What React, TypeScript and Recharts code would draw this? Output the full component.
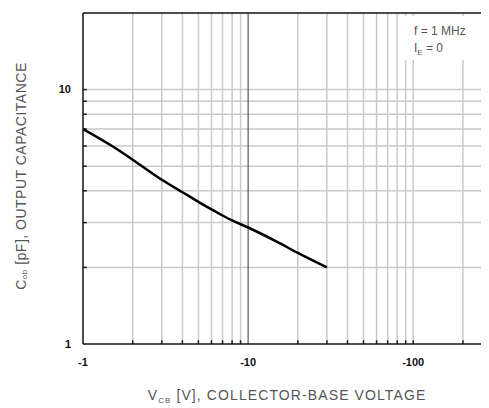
import { LineChart, Line, XAxis, YAxis, ReferenceLine } from "recharts"

const voltage = [1, 1.5, 2, 3, 4, 5, 6, 7, 8, 10, 15, 20, 30]
const capacitance = [7.0, 6.0, 5.3, 4.42, 3.95, 3.62, 3.38, 3.2, 3.06, 2.87, 2.52, 2.28, 2.0]

const xTicks = [1, 10, 100]
const yTicks = [1, 10]
const xGrid = [2, 3, 4, 5, 6, 7, 8, 9, 20, 30, 40, 50, 60, 70, 80, 90, 100, 200]
const yGrid = [2, 3, 4, 5, 6, 7, 8, 9, 10]

const data = voltage.map((v, i) => ({ v, c: capacitance[i] }))

const FONT = "'Liberation Sans', Arial, sans-serif"
const GRID = "#c9c9c9"

function XTitle() {
  const cx = 287 - 8
  const y = 400 - 8
  return (
    <text x={cx} y={y} textAnchor="middle" fill="#555" fontSize={14} letterSpacing={1.1} fontFamily={FONT}>
      V<tspan fontSize={8} dy={3}>CB</tspan>
      <tspan dy={-3}> [V], COLLECTOR-BASE VOLTAGE</tspan>
    </text>
  )
}

function YTitle() {
  const x = 22 - 8
  const y = 176 - 8
  return (
    <text
      x={x}
      y={y}
      transform={`rotate(-90 ${x} ${y})`}
      textAnchor="middle"
      fill="#555"
      fontSize={14}
      letterSpacing={0.5}
      fontFamily={FONT}
      dominantBaseline="middle"
    >
      C<tspan fontSize={8} dy={3}>ob</tspan>
      <tspan dy={-3}> [pF], OUTPUT CAPACITANCE</tspan>
    </text>
  )
}

export default function App() {
  return (
    <div style={{ position: "relative", width: 481, height: 400, overflow: "hidden" }}>
      <LineChart
        width={500}
        height={400}
        data={data}
        margin={{ top: 5, right: 16, left: 0, bottom: 0 }}
      >
        {xGrid.map((v) => (
          <ReferenceLine key={"gx" + v} x={v} stroke={GRID} strokeWidth={1.5} />
        ))}
        {yGrid.map((v) => (
          <ReferenceLine key={"gy" + v} y={v} stroke={GRID} strokeWidth={1.5} />
        ))}
        <ReferenceLine x={10} stroke="#333" strokeWidth={1} />
        {xGrid.map((v) => (
          <ReferenceLine
            key={"tx" + v}
            segment={[{ x: v, y: 1 }, { x: v, y: 1.035 }]}
            stroke="#222"
            strokeWidth={1.5}
          />
        ))}
        {yGrid.map((v) => (
          <ReferenceLine
            key={"ty" + v}
            segment={[{ x: 1, y: v }, { x: 1.055, y: v }]}
            stroke="#222"
            strokeWidth={1.5}
          />
        ))}
        <ReferenceLine y={20} stroke="#111" strokeWidth={1.5} />
        <XAxis
          dataKey="v"
          type="number"
          scale="log"
          domain={[1, 300]}
          ticks={xTicks}
          allowDataOverflow
          height={64}
          tickLine={false}
          tickMargin={8}
          axisLine={{ stroke: "#111", strokeWidth: 1.5 }}
          tickFormatter={(t: number) => "-" + t}
          tick={{ fill: "#111", fontSize: 11, fontWeight: "bold", fontFamily: FONT }}
          label={<XTitle />}
        />
        <YAxis
          type="number"
          scale="log"
          domain={[1, 20]}
          ticks={yTicks}
          allowDataOverflow
          width={75}
          tickLine={false}
          tickMargin={6}
          axisLine={{ stroke: "#111", strokeWidth: 1.5 }}
          tick={{ fill: "#111", fontSize: 11, fontWeight: "bold", fontFamily: FONT }}
          label={<YTitle />}
        />
        <Line
          type="monotone"
          dataKey="c"
          stroke="#000"
          strokeWidth={2.5}
          dot={false}
          isAnimationActive={false}
        />
      </LineChart>
      <div
        style={{
          position: "absolute",
          left: 393,
          top: 8,
          width: 88,
          height: 44,
          background: "#fff",
          fontFamily: FONT,
          fontSize: 12,
          color: "#555",
          lineHeight: "17px",
          paddingLeft: 13,
          paddingTop: 7,
          boxSizing: "border-box",
        }}
      >
        <div>f = 1 MHz</div>
        <div>
          I<sub style={{ fontSize: 8, verticalAlign: "-3px" }}>E</sub> = 0
        </div>
      </div>
    </div>
  )
}
